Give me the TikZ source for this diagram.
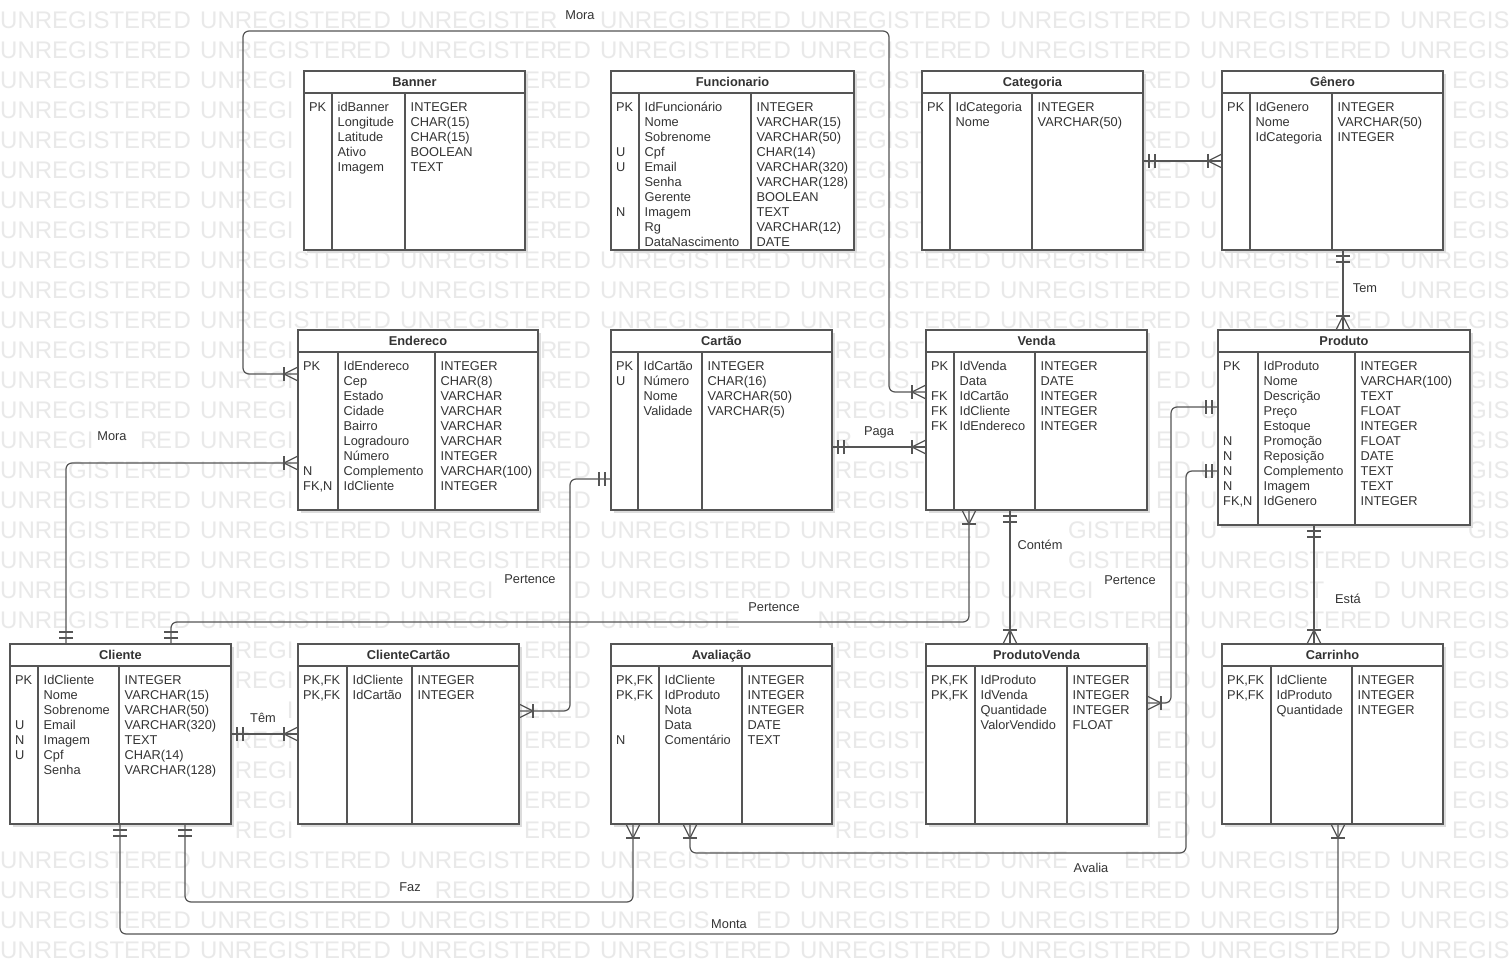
\documentclass[tikz,border=0pt]{standalone}
\usepackage{fontspec}
\setmainfont{Liberation Sans}
\definecolor{txt}{HTML}{333333}
\definecolor{bord}{HTML}{555555}
\definecolor{wmc}{HTML}{E9E9E9}
\definecolor{shad}{HTML}{DCDCDC}
\tikzset{
 tabbox/.style={draw=bord, fill=white, line width=1.2pt, inner sep=0pt, outer sep=0pt, anchor=north west},
 tline/.style={draw=bord, line width=1.2pt},
 ttitle/.style={font=\fontsize{12.8}{15}\selectfont\bfseries, text=txt, inner sep=0pt, anchor=base},
 ctext/.style={font=\fontsize{12.8}{15}\selectfont, text=txt, inner sep=0pt, anchor=north west, align=left},
 conn/.style={draw=bord, line width=1.2pt, rounded corners=6pt},
 mk/.style={draw=bord, line width=1.2pt},
 elabel/.style={font=\fontsize{12.8}{15}\selectfont, text=txt, fill=white, inner sep=1pt},
 wm/.style={font=\fontsize{24}{24}\selectfont, text=wmc, inner sep=0pt, anchor=base west},
}
\newcommand\ertab[8]{%
 \fill[shad] (#2+3,#3+3) rectangle ++(#4,#5);
 \node[tabbox, minimum width=#4pt, minimum height=#5pt] (#1) at (#2,#3) {};
 \draw[tline] ([yshift=-22pt]#1.north west) -- ([yshift=-22pt]#1.north east);
 \draw[tline] ([xshift=#6pt,yshift=-22pt]#1.north west) -- ([xshift=#6pt]#1.south west);
 \draw[tline] ([xshift=#7pt,yshift=-22pt]#1.north west) -- ([xshift=#7pt]#1.south west);
 \node[ttitle] (#1-t) at ([yshift=-15.6pt]#1.north) {#8};
}
\newcommand\ercols[6]{%
 \node[ctext] (#1-c0) at ([xshift=5pt,yshift=-30pt]#1.north west) {#4};
 \node[ctext] (#1-c1) at ([xshift=#2pt+5.5pt,yshift=-30pt]#1.north west) {#5};
 \node[ctext] (#1-c2) at ([xshift=#3pt+5.5pt,yshift=-30pt]#1.north west) {#6};
}
\newcommand\mkmany[2]{\begin{scope}[shift={(#1)},rotate=#2]\draw[mk] (0,7)--(14,0)--(0,-7);\draw[mk] (14,7)--(14,-7);\end{scope}}
\newcommand\mkone[2]{\begin{scope}[shift={(#1)},rotate=#2]\draw[mk] (6,7)--(6,-7);\draw[mk] (12,7)--(12,-7);\end{scope}}
\newif\ifwmhide
% regions where watermark letters would lie under table texts or edge labels
\def\wmrects{309/74/520.5/248, 616/74/849.5/251, 927/74/1138.5/248, 1227/74/1438.5/248,
 303/333/533.5/508, 616/333/827.5/508, 931/333/1142.5/508, 1223/333/1465.5/523,
 15/647/226.5/822, 303/647/514.5/822, 616/647/827.5/822, 931/647/1142.5/822, 1227/647/1438.5/822,
 564.4/8/595.6/22, 96.4/429/127.6/443, 1351.2/281/1378.8/295, 863/425/895/439, 503.4/572/556.6/586,
 249.2/711/276.8/725, 747.4/600/800.6/614, 1016.6/538/1063.4/552, 1103.4/573/1156.6/587,
 1334.2/592/1361.8/606, 398.3/880/421.7/894, 1072.5/861/1109.5/875, 710.2/917/747.8/931}
\begin{document}
\begin{tikzpicture}[x=1pt,y=-1pt]
\useasboundingbox (0,0) rectangle (1510,976);
\fill[white] (0,0) rectangle (1510,976);
% watermark (letters hidden behind box texts and labels are left out)
\foreach \j in {0,...,31}{%
 \pgfmathsetmacro\by{28.6+30*\j}%
 \pgfmathsetmacro\ty{\by-17.2}%
 \foreach \k in {0,...,7}{%
  \foreach \ch/\off/\w [count=\c] in {U/0/17.33, N/17.33/17.33, R/34.66/17.33, E/51.98/16, G/67.99/18.67, I/86.66/6.67, S/93.34/16, T/109.34/14.67, E/124.01/16, R/140.02/17.33, E/156.02/16, D/173.35/17.33}{%
   \pgfmathsetmacro\lx{200*\k+\off}%
   \pgfmathsetmacro\rx{\lx+\w}%
   \global\wmhidefalse
   \ifdim\rx pt>1510.5pt \global\wmhidetrue\fi
   \foreach \xa/\ya/\xb/\yb in \wmrects {%
     \ifdim\rx pt>\xa pt \ifdim\lx pt<\xb pt \ifdim\by pt>\ya pt \ifdim\ty pt<\yb pt \global\wmhidetrue\fi\fi\fi\fi
   }%
   \ifwmhide\else \node[wm] (wm-\j-\k-\c) at (\lx,\by) {\ch};\fi
  }%
 }%
}
% tables
\ertab{banner}{304}{71}{221}{179}{28}{101}{Banner}
\ercols{banner}{28}{101}{\strut PK}{\strut idBanner\\\strut Longitude\\\strut Latitude\\\strut Ativo\\\strut Imagem}{\strut INTEGER\\\strut CHAR(15)\\\strut CHAR(15)\\\strut BOOLEAN\\\strut TEXT}

\ertab{func}{611}{71}{243}{179}{28}{140}{Funcionario}
\ercols{func}{28}{140}{\strut PK\\\strut\\\strut\\\strut U\\\strut U\\\strut\\\strut\\\strut N}{\strut IdFuncionário\\\strut Nome\\\strut Sobrenome\\\strut Cpf\\\strut Email\\\strut Senha\\\strut Gerente\\\strut Imagem\\\strut Rg\\\strut DataNascimento}{\strut INTEGER\\\strut VARCHAR(15)\\\strut VARCHAR(50)\\\strut CHAR(14)\\\strut VARCHAR(320)\\\strut VARCHAR(128)\\\strut BOOLEAN\\\strut TEXT\\\strut VARCHAR(12)\\\strut DATE}

\ertab{cat}{922}{71}{221}{179}{28}{110}{Categoria}
\ercols{cat}{28}{110}{\strut PK}{\strut IdCategoria\\\strut Nome}{\strut INTEGER\\\strut VARCHAR(50)}

\ertab{gen}{1222}{71}{221}{179}{28}{110}{Gênero}
\ercols{gen}{28}{110}{\strut PK}{\strut IdGenero\\\strut Nome\\\strut IdCategoria}{\strut INTEGER\\\strut VARCHAR(50)\\\strut INTEGER}

\ertab{ender}{298}{330}{240}{180}{40}{137}{Endereco}
\ercols{ender}{40}{137}{\strut PK\\\strut\\\strut\\\strut\\\strut\\\strut\\\strut\\\strut N\\\strut FK,N}{\strut IdEndereco\\\strut Cep\\\strut Estado\\\strut Cidade\\\strut Bairro\\\strut Logradouro\\\strut Número\\\strut Complemento\\\strut IdCliente}{\strut INTEGER\\\strut CHAR(8)\\\strut VARCHAR\\\strut VARCHAR\\\strut VARCHAR\\\strut VARCHAR\\\strut INTEGER\\\strut VARCHAR(100)\\\strut INTEGER}

\ertab{cartao}{611}{330}{221}{180}{27}{91}{Cartão}
\ercols{cartao}{27}{91}{\strut PK\\\strut U}{\strut IdCartão\\\strut Número\\\strut Nome\\\strut Validade}{\strut INTEGER\\\strut CHAR(16)\\\strut VARCHAR(50)\\\strut VARCHAR(5)}

\ertab{venda}{926}{330}{221}{180}{28}{109}{Venda}
\ercols{venda}{28}{109}{\strut PK\\\strut\\\strut FK\\\strut FK\\\strut FK}{\strut IdVenda\\\strut Data\\\strut IdCartão\\\strut IdCliente\\\strut IdEndereco}{\strut INTEGER\\\strut DATE\\\strut INTEGER\\\strut INTEGER\\\strut INTEGER}

\ertab{prod}{1218}{330}{252}{195}{40}{137}{Produto}
\ercols{prod}{40}{137}{\strut PK\\\strut\\\strut\\\strut\\\strut\\\strut N\\\strut N\\\strut N\\\strut N\\\strut FK,N}{\strut IdProduto\\\strut Nome\\\strut Descrição\\\strut Preço\\\strut Estoque\\\strut Promoção\\\strut Reposição\\\strut Complemento\\\strut Imagem\\\strut IdGenero}{\strut INTEGER\\\strut VARCHAR(100)\\\strut TEXT\\\strut FLOAT\\\strut INTEGER\\\strut FLOAT\\\strut DATE\\\strut TEXT\\\strut TEXT\\\strut INTEGER}

\ertab{cli}{10}{644}{221}{180}{28}{109}{Cliente}
\ercols{cli}{28}{109}{\strut PK\\\strut\\\strut\\\strut U\\\strut N\\\strut U}{\strut IdCliente\\\strut Nome\\\strut Sobrenome\\\strut Email\\\strut Imagem\\\strut Cpf\\\strut Senha}{\strut INTEGER\\\strut VARCHAR(15)\\\strut VARCHAR(50)\\\strut VARCHAR(320)\\\strut TEXT\\\strut CHAR(14)\\\strut VARCHAR(128)}

\ertab{clicar}{298}{644}{221}{180}{49}{114}{ClienteCartão}
\ercols{clicar}{49}{114}{\strut PK,FK\\\strut PK,FK}{\strut IdCliente\\\strut IdCartão}{\strut INTEGER\\\strut INTEGER}

\ertab{aval}{611}{644}{221}{180}{48}{131}{Avaliação}
\ercols{aval}{48}{131}{\strut PK,FK\\\strut PK,FK\\\strut\\\strut\\\strut N}{\strut IdCliente\\\strut IdProduto\\\strut Nota\\\strut Data\\\strut Comentário}{\strut INTEGER\\\strut INTEGER\\\strut INTEGER\\\strut DATE\\\strut TEXT}

\ertab{pv}{926}{644}{221}{180}{49}{141}{ProdutoVenda}
\ercols{pv}{49}{141}{\strut PK,FK\\\strut PK,FK}{\strut IdProduto\\\strut IdVenda\\\strut Quantidade\\\strut ValorVendido}{\strut INTEGER\\\strut INTEGER\\\strut INTEGER\\\strut FLOAT}

\ertab{carr}{1222}{644}{221}{180}{49}{130}{Carrinho}
\ercols{carr}{49}{130}{\strut PK,FK\\\strut PK,FK}{\strut IdCliente\\\strut IdProduto\\\strut Quantidade}{\strut INTEGER\\\strut INTEGER\\\strut INTEGER}

% connector end points
\coordinate (a1) at ([yshift=-44pt]ender.north west);
\coordinate (a2) at ([yshift=-62pt]venda.north west);
\coordinate (b1) at ([xshift=56pt]cli.north west);
\coordinate (b2) at ([yshift=-133pt]ender.north west);
\coordinate (c1) at ([yshift=-90pt]cat.north east);
\coordinate (c2) at ([yshift=-90pt]gen.north west);
\coordinate (d1) at ([xshift=121pt]gen.south west);
\coordinate (d2) at ([xshift=125pt]prod.north west);
\coordinate (e1) at ([yshift=-117pt]cartao.north east);
\coordinate (e2) at ([yshift=-117pt]venda.north west);
\coordinate (f1) at ([yshift=-149pt]cartao.north west);
\coordinate (f2) at ([yshift=-67pt]clicar.north east);
\coordinate (g1) at ([yshift=-90pt]cli.north east);
\coordinate (g2) at ([yshift=-90pt]clicar.north west);
\coordinate (h1) at ([xshift=43pt]venda.south west);
\coordinate (h2) at ([xshift=161pt]cli.north west);
\coordinate (i1) at ([xshift=84pt]venda.south west);
\coordinate (i2) at ([xshift=84pt]pv.north west);
\coordinate (j1) at ([yshift=-77pt]prod.north west);
\coordinate (j2) at ([yshift=-59pt]pv.north east);
\coordinate (k1) at ([xshift=96pt]prod.south west);
\coordinate (k2) at ([xshift=92pt]carr.north west);
\coordinate (l1) at ([xshift=175pt]cli.south west);
\coordinate (l2) at ([xshift=22pt]aval.south west);
\coordinate (m1) at ([xshift=79pt]aval.south west);
\coordinate (m2) at ([yshift=-141pt]prod.north west);
\coordinate (n1) at ([xshift=110pt]cli.south west);
\coordinate (n2) at ([xshift=116pt]carr.south west);

% connectors
\draw[conn] (a1) -- (243,374) -- (243,31) -- (889,31) -- (889,392) -- (a2);
\draw[conn] (b1) -- (66,463) -- (b2);
\draw[conn] (c1) -- (c2);
\draw[conn] (d1) -- (d2);
\draw[conn] (e1) -- (e2);
\draw[conn] (f1) -- (570,479) -- (570,711) -- (f2);
\draw[conn] (g1) -- (g2);
\draw[conn] (h1) -- (969,622) -- (171,622) -- (h2);
\draw[conn] (i1) -- (i2);
\draw[conn] (j1) -- (1171,407) -- (1171,703) -- (j2);
\draw[conn] (k1) -- (k2);
\draw[conn] (l1) -- (185,902) -- (633,902) -- (l2);
\draw[conn] (m1) -- (690,853) -- (1186,853) -- (1186,471) -- (m2);
\draw[conn] (n1) -- (120,934) -- (1338,934) -- (n2);

% end markers
\mkmany{a1}{180} \mkmany{a2}{180}
\mkone{b1}{90} \mkmany{b2}{180}
\mkone{c1}{0} \mkmany{c2}{180}
\mkone{d1}{-90} \mkmany{d2}{90}
\mkone{e1}{0} \mkmany{e2}{180}
\mkone{f1}{180} \mkmany{f2}{0}
\mkone{g1}{0} \mkmany{g2}{180}
\mkmany{h1}{-90} \mkone{h2}{90}
\mkone{i1}{-90} \mkmany{i2}{90}
\mkone{j1}{180} \mkmany{j2}{0}
\mkone{k1}{-90} \mkmany{k2}{90}
\mkone{l1}{-90} \mkmany{l2}{-90}
\mkmany{m1}{-90} \mkone{m2}{180}
\mkone{n1}{-90} \mkmany{n2}{-90}

% labels
\node[elabel] (lab-mora1) at (580,15) {Mora};
\node[elabel] (lab-mora2) at (112,436) {Mora};
\node[elabel] (lab-tem) at (1365,288) {Tem};
\node[elabel] (lab-paga) at (879,432) {Paga};
\node[elabel] (lab-pert1) at (530,579) {Pertence};
\node[elabel] (lab-tem2) at (263,718) {Têm};
\node[elabel] (lab-pert2) at (774,607) {Pertence};
\node[elabel] (lab-contem) at (1040,545) {Contém};
\node[elabel] (lab-pert3) at (1130,580) {Pertence};
\node[elabel] (lab-esta) at (1348,599) {Está};
\node[elabel] (lab-faz) at (410,887) {Faz};
\node[elabel] (lab-avalia) at (1091,868) {Avalia};
\node[elabel] (lab-monta) at (729,924) {Monta};
\end{tikzpicture}
\end{document}
